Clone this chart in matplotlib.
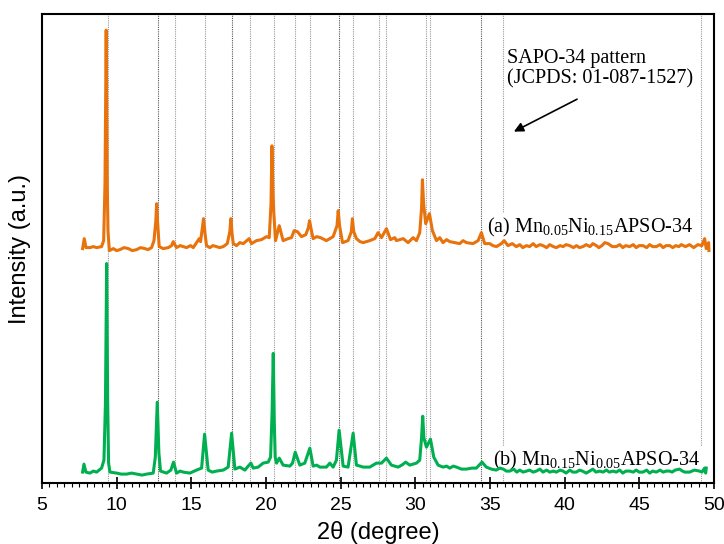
import matplotlib
matplotlib.use("Agg")
import matplotlib.pyplot as plt

# 2theta (degree) and intensity (a.u.), curve (a) already stacked
two_theta_a = [7.72, 7.83, 7.95, 8.21, 8.44, 8.66, 8.99, 9.13, 9.22, 9.30, 9.37, 9.42, 9.51, 9.78, 10.00,
               10.22, 10.50, 10.78, 11.05, 11.34, 11.60, 11.89, 12.10, 12.34, 12.50, 12.62, 12.68,
               12.74, 12.85, 13.12, 13.46, 13.68, 13.79, 14.01, 14.25, 14.46, 14.68, 14.95, 15.13,
               15.53, 15.62, 15.82, 15.92, 16.02, 16.24, 16.45, 16.69, 16.90, 17.14, 17.41, 17.58, 17.65,
               17.73, 17.81, 18.03, 18.25, 18.48, 18.88, 19.03, 19.37, 19.70, 20.04, 20.22, 20.34, 20.40,
               20.47, 20.53, 20.64, 20.89, 21.15, 21.49, 21.71, 21.89, 22.11, 22.38, 22.67, 22.84, 22.92,
               23.02, 23.16, 23.40, 23.65, 24.05, 24.50, 24.76, 24.84, 24.93, 25.13, 25.50, 25.72, 25.79,
               25.88, 26.06, 26.30, 26.51, 26.95, 27.29, 27.51, 27.74, 28.07, 28.34, 28.63, 28.74, 29.19,
               29.52, 29.86, 30.08, 30.30, 30.42, 30.48, 30.56, 30.70, 30.95, 31.15, 31.42, 31.64, 31.86,
               32.10, 32.31, 32.64, 32.98, 33.20, 33.43, 33.87, 34.21, 34.43, 34.65, 34.99, 35.20,
               35.43, 35.77, 35.95, 36.21, 36.50, 36.77, 37.00, 37.20, 37.45, 37.66, 37.90, 38.10, 38.35,
               38.56, 38.80, 39.00, 39.25, 39.45, 39.70, 39.90, 40.10, 40.34, 40.60, 40.80, 41.00, 41.23,
               41.45, 41.70, 41.90, 42.13, 42.30, 42.50, 42.70, 42.91, 43.20, 43.46, 43.70, 43.90, 44.10,
               44.36, 44.60, 44.80, 45.00, 45.25, 45.50, 45.70, 45.90, 46.14, 46.40, 46.60, 46.80, 47.04,
               47.25, 47.45, 47.65, 47.82, 48.10, 48.37, 48.65, 48.93, 49.20, 49.38, 49.49, 49.65, 49.67]
intensity_a = [235, 245, 236, 236, 237, 236, 237, 243, 300, 454, 300, 253, 233, 235, 233,
               234, 236, 235, 233, 234, 236, 235, 234, 236, 243, 262, 280,
               262, 237, 235, 236, 238, 242, 236, 238, 237, 236, 238, 236,
               245, 242, 265, 250, 238, 236, 238, 237, 236, 237, 240, 252, 265,
               250, 240, 238, 241, 240, 245, 240, 243, 244, 247, 246, 280, 338,
               290, 270, 243, 258, 243, 245, 246, 253, 252, 247, 249, 256, 263,
               255, 245, 247, 246, 243, 247, 258, 273, 258, 241, 243, 252, 265,
               252, 245, 242, 241, 243, 245, 251, 246, 255, 244, 246, 243, 245,
               241, 246, 243, 251, 275, 304, 280, 260, 270, 253, 243, 246, 241,
               244, 242, 241, 240, 243, 241, 240, 243, 251, 240, 240, 238,
               237, 240, 243, 238, 240, 237, 239, 236, 238, 237, 240, 237, 239,
               238, 236, 239, 237, 236, 238, 237, 239, 238, 236, 238, 236, 237,
               239, 237, 240, 238, 236, 238, 241, 240, 237, 237, 239, 236, 238,
               237, 239, 236, 238, 238, 236, 239, 237, 237, 239, 236, 238, 238,
               236, 238, 237, 239, 237, 239, 236, 239, 238, 245, 235, 241, 233]

# curve (b)
two_theta_b = [7.72, 7.81, 7.94, 8.21, 8.44, 8.66, 8.99, 9.15, 9.25, 9.33, 9.40, 9.46, 9.55, 10.00, 10.30,
               10.67, 11.00, 11.34, 11.70, 12.01, 12.45, 12.59, 12.72, 12.83, 12.94, 13.34,
               13.63, 13.81, 14.01, 14.25, 14.46, 14.91, 15.35, 15.69, 15.89, 16.13, 16.40,
               16.69, 17.14, 17.47, 17.70, 17.92, 18.25, 18.59, 18.81, 18.99, 19.15, 19.48,
               19.81, 20.15, 20.31, 20.41, 20.49, 20.56, 20.62, 20.71, 20.89, 21.15, 21.60, 21.78, 21.96,
               22.27, 22.60, 22.94, 23.16, 23.40, 23.61, 24.05, 24.28, 24.50, 24.72, 24.90, 25.17,
               25.50, 25.84, 26.06, 26.30, 26.51, 26.95, 27.40, 27.74, 28.07, 28.40, 28.85, 29.10, 29.36,
               29.63, 30.08, 30.30, 30.42, 30.50, 30.58, 30.75, 31.02, 31.24, 31.53, 31.86, 32.10, 32.31,
               32.55, 32.76, 33.10, 33.42, 33.80, 34.09, 34.47, 34.76, 35.10, 35.43, 35.65, 35.90, 36.10,
               36.33, 36.60, 36.80, 37.00, 37.22, 37.45, 37.65, 37.90, 38.11, 38.35, 38.55, 38.80, 39.00,
               39.25, 39.45, 39.70, 39.90, 40.10, 40.35, 40.55, 40.79, 41.00, 41.20, 41.45, 41.68, 41.90,
               42.10, 42.35, 42.57, 42.80, 43.00, 43.25, 43.46, 43.70, 43.90, 44.10, 44.36, 44.60, 44.80,
               45.00, 45.25, 45.50, 45.70, 45.90, 46.14, 46.40, 46.60, 46.80, 47.04, 47.20, 47.40, 47.70,
               47.90, 48.05, 48.37, 48.70, 49.04, 49.20, 49.38, 49.45, 49.49]
intensity_b = [11, 19, 11, 10, 12, 11, 15, 23, 80, 220, 80, 20, 11, 10, 9,
               9, 10, 9, 8, 9, 10, 26, 81, 30, 12, 10,
               13, 21, 10, 12, 11, 10, 13, 15, 49, 13, 11,
               12, 13, 16, 50, 14, 16, 13, 17, 20, 15, 16,
               20, 21, 26, 70, 130, 60, 26, 20, 25, 18, 17, 20, 31,
               18, 20, 35, 17, 18, 16, 16, 20, 16, 23, 53, 17,
               16, 50, 18, 17, 16, 16, 20, 20, 25, 18, 16, 18, 21,
               18, 20, 23, 45, 67, 45, 36, 44, 26, 18, 16, 17, 15,
               17, 16, 14, 14, 15, 15, 21, 16, 14, 13, 15, 14, 12,
               12, 14, 11, 13, 11, 12, 13, 11, 12, 14, 11, 13, 11,
               12, 11, 13, 12, 10, 13, 11, 11, 13, 12, 10, 12, 14,
               11, 12, 11, 13, 11, 12, 11, 13, 10, 12, 12, 11, 13,
               11, 11, 13, 10, 12, 11, 13, 11, 12, 12, 11, 13, 14,
               12, 11, 11, 13, 12, 11, 15, 10, 15]

# SAPO-34 reference reflections (JCPDS 01-087-1527)
ref_peaks = [9.43, 12.80, 13.91, 15.92, 17.72, 18.95, 20.53, 21.93, 22.96, 24.87, 25.81,
             27.55, 28.04, 30.72, 30.98, 34.37, 35.90, 49.14]
ref_strong = [12.80, 17.72, 24.87, 34.37]

label_a = "(a) Mn$_{0.05}$Ni$_{0.15}$APSO-34"
label_b = "(b) Mn$_{0.15}$Ni$_{0.05}$APSO-34"

plt.rcParams['mathtext.fontset'] = 'custom'
plt.rcParams['mathtext.rm'] = 'Liberation Serif'
plt.rcParams['mathtext.it'] = 'Liberation Serif:italic'
plt.rcParams['mathtext.bf'] = 'Liberation Serif:bold'

fig = plt.figure(figsize=(7.24, 5.44), dpi=100)
ax = fig.add_axes([0.058, 0.112, 0.928, 0.862])

for p in ref_peaks:
    c = '#555555' if p in ref_strong else '#9a9a9a'
    ax.axvline(p, color=c, lw=0.8, ls=(0, (1, 1)), zorder=1)

ax.plot(two_theta_a, intensity_a, color='#E8720C', lw=2.2, zorder=3)
ax.plot(two_theta_b, intensity_b, color='#00B050', lw=2.2, zorder=3)

serif = 'Liberation Serif'
ax.text(34.8, 256, label_a, fontsize=14.5, family=serif, va='center', ha='left',
        zorder=2, bbox=dict(facecolor='white', edgecolor='none', pad=2))
ax.text(35.2, 23, label_b, fontsize=14.5, family=serif, va='center', ha='left',
        zorder=2, bbox=dict(facecolor='white', edgecolor='none', pad=2))
ax.text(36.15, 435, "SAPO-34 pattern\n(JCPDS: 01-087-1527)", fontsize=14.5, family=serif,
        va='top', ha='left', linespacing=1.1, zorder=4)
ax.annotate('', xy=(36.44, 351), xytext=(41.0, 386),
            arrowprops=dict(arrowstyle='-|>', color='black', lw=1.2, mutation_scale=14))

ax.set_xlim(5, 50)
ax.set_ylim(0, 470)
ax.set_xticks(range(5, 51, 5))
ax.set_xticks([x * 0.5 for x in range(10, 101)], minor=True)
ax.set_yticks([])
ax.tick_params(axis='x', which='major', direction='inout', length=8, width=1.2,
               labelsize=14, pad=6)
ax.tick_params(axis='x', which='minor', direction='out', length=3, width=0.8)
for lbl in ax.get_xticklabels():
    lbl.set_family('Liberation Sans')
for s in ax.spines.values():
    s.set_linewidth(1.5)

ax.set_xlabel("2θ (degree)", fontsize=17, family='Liberation Sans', labelpad=5)
ax.set_ylabel("Intensity (a.u.)", fontsize=17, family='Liberation Sans', labelpad=8)

fig.savefig("out.png", dpi=100)
